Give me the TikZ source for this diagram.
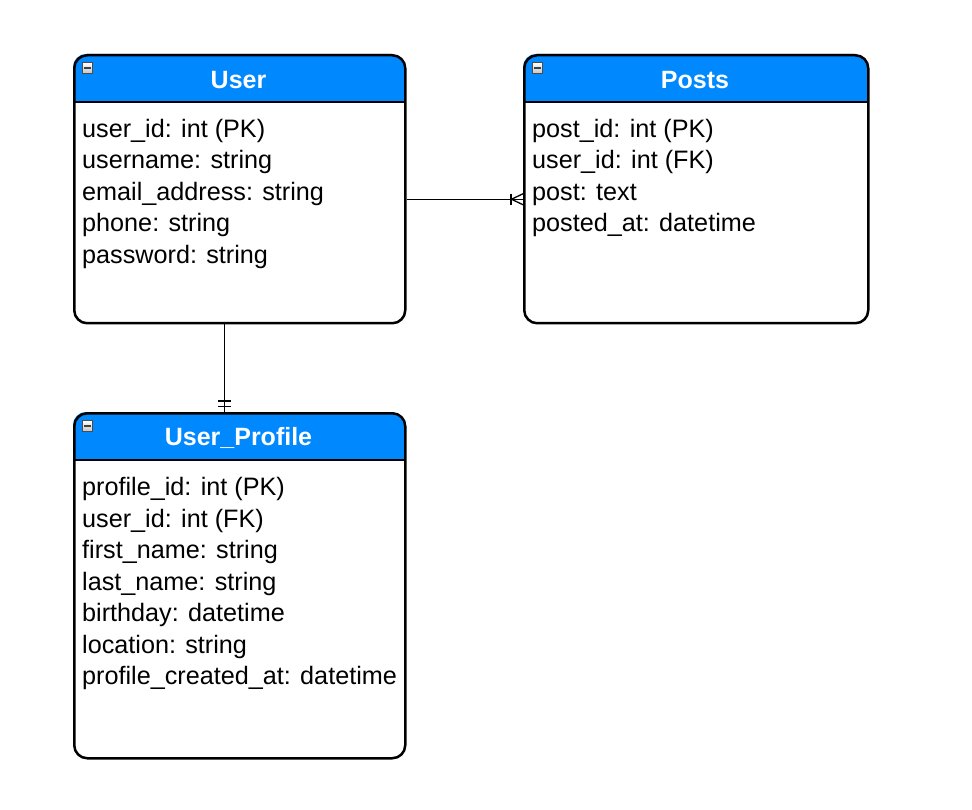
\documentclass[tikz,border=0pt]{standalone}
\usepackage{fontspec}
\setmainfont{Liberation Sans}
\definecolor{hdrblue}{RGB}{0,136,255}
\begin{document}
\begin{tikzpicture}[x=1pt,y=-1pt,
  tbl/.style={draw=black, line width=2.5pt, rounded corners=13pt, anchor=north west, inner sep=0pt},
  field/.style={anchor=base west, inner sep=0pt, font=\fontsize{25.2}{31.5}\selectfont},
  title/.style={text=white, inner sep=0pt, font=\fontsize{25}{30}\selectfont\bfseries},
  conn/.style={draw=black, line width=1.3pt}]
\useasboundingbox (0,0) rectangle (972,810);
\fill[white] (0,0) rectangle (972,810);

\newcommand{\mytable}[6]{% name, x1, y1, x2, y2, title
  \fill[hdrblue] (#2,#3+48) [rounded corners=13pt] -- (#2,#3) -- (#4,#3) [sharp corners] -- (#4,#3+48) -- cycle;
  \node[tbl, minimum width=#4-#2, minimum height=#5-#3] (#1) at (#2,#3) {};
  \draw[line width=2.5pt] (#2,#3+48) -- (#4,#3+48);
  \node[title] (#1-title) at ({(#2+#4)/2},#3+26) {#6};
  \node[draw=gray!60!black, line width=0.6pt, top color=white, bottom color=gray!45, minimum width=10pt, minimum height=11pt, inner sep=0pt, anchor=north west] (#1-icon) at (#2+9,#3+8) {};
  \draw[line width=1.6pt, black!75] ([xshift=2pt]#1-icon.west) -- ([xshift=-2pt]#1-icon.east);
}

\mytable{user}{73}{54}{404}{322}{User}
\mytable{posts}{523}{54}{867}{322}{Posts}
\mytable{profile}{73}{412}{404}{757}{User\_Profile}

\foreach [count=\i] \t in {{user\_id: int (PK)},{username: string},{email\_address: string},{phone: string},{password: string}}
  \node[field] (user-f\i) at (82,{137.5+31.5*(\i-1)}) {\t};

\foreach [count=\i] \t in {{post\_id: int (PK)},{user\_id: int (FK)},{post: text},{posted\_at: datetime}}
  \node[field] (posts-f\i) at (532,{137.5+31.5*(\i-1)}) {\t};

\foreach [count=\i] \t in {{profile\_id: int (PK)},{user\_id: int (FK)},{first\_name: string},{last\_name: string},{birthday: datetime},{location: string},{profile\_created\_at: datetime}}
  \node[field] (profile-f\i) at (82,{495.5+31.5*(\i-1)}) {\t};

% User -> Posts (one to many)
\coordinate (c1a) at ([yshift=-10pt]user.east);
\coordinate (c1b) at ([yshift=-10pt]posts.west);
\draw[conn] (c1a) -- (c1b);
\draw[conn] ([xshift=-12pt,yshift=5.5pt]c1b) -- ([xshift=-12pt,yshift=-5.5pt]c1b);
\draw[conn] ([yshift=5.5pt]c1b) -- ([xshift=-11.5pt]c1b) -- ([yshift=-5.5pt]c1b);

% User -> User_Profile (one to one)
\coordinate (c2a) at ([xshift=-15.5pt]user.south);
\coordinate (c2b) at ([xshift=-15.5pt]profile.north);
\draw[conn] (c2a) -- (c2b);
\draw[conn] ([xshift=-6.5pt,yshift=11pt]c2b) -- ([xshift=6.5pt,yshift=11pt]c2b);
\draw[conn] ([xshift=-6.5pt,yshift=5.5pt]c2b) -- ([xshift=6.5pt,yshift=5.5pt]c2b);
\end{tikzpicture}
\end{document}
